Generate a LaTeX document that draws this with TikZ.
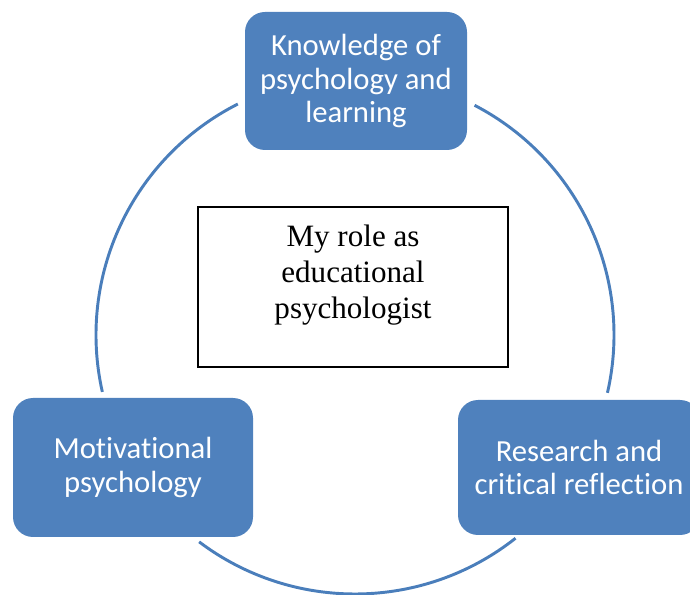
\documentclass[tikz,border=0pt]{standalone}
\usepackage{fontspec}
\setmainfont{Liberation Serif}
\newfontfamily\boxfont[Ligatures=NoCommon]{Carlito}
\definecolor{cycleblue}{HTML}{4F81BD}
\definecolor{ringblue}{HTML}{4A7EBB}
\begin{document}
\begin{tikzpicture}[x=0.75pt,y=-0.75pt,
  topic/.style={fill=cycleblue, rounded corners=15pt, text=white, align=center,
    font=\boxfont\fontsize{23}{25}\selectfont, inner sep=0pt},
  ring/.style={draw=ringblue, line width=2.2pt},
  rolebox/.style={draw=black, line width=1.5pt, fill=white, inner sep=0pt},
  roletext/.style={align=center, font=\fontsize{23.3}{27}\selectfont, inner sep=0pt}]
\clip (0,0) rectangle (690,595);
\useasboundingbox (0,0) rectangle (690,595);

% centre of the cycle
\coordinate (ctr) at (355,335);

% the three topic boxes
\node[topic, minimum width=166.5pt, minimum height=103.5pt] (know) at (356,81)
  {Knowledge of\\psychology and\\learning};
\node[topic, minimum width=180pt, minimum height=104.25pt] (motiv) at (133,467.5)
  {Motivational\\psychology};
\node[topic, minimum width=181.5pt, minimum height=101.25pt] (research) at (579,467.5)
  {Research and\\critical reflection};

% ring arcs joining the boxes
\draw[ring] (ctr) ++(116.9:194.25pt) arc[start angle=116.9, end angle=192.7, radius=194.25pt];
\draw[ring] (ctr) ++(233:194.25pt) arc[start angle=233, end angle=308.3, radius=194.25pt];
\draw[ring] (ctr) ++(-12.9:194.25pt) arc[start angle=-12.9, end angle=62.5, radius=194.25pt];

% central role box
\node[rolebox, minimum width=232.5pt, minimum height=120pt] (role) at (353,287) {};
\node[roletext] (roletxt) at (353,275) {My role as\\educational\\psychologist};
\end{tikzpicture}
\end{document}
